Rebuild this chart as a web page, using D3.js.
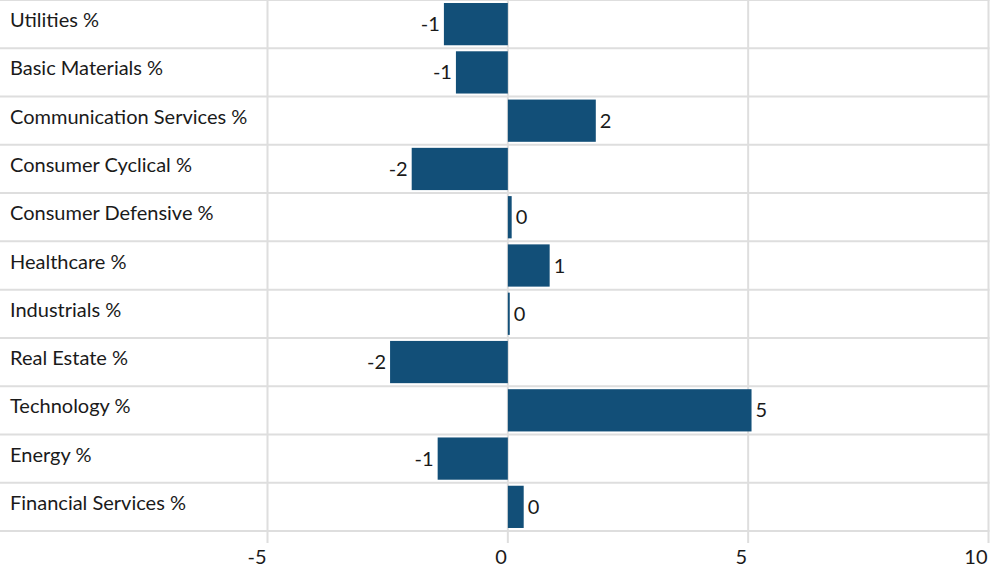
<!DOCTYPE html>
<html>
<head>
<meta charset="utf-8">
<script src="https://cdn.jsdelivr.net/npm/d3@7"></script>
<style>
  html, body { margin: 0; padding: 0; background: #fff; }
  svg text { font-family: Lato, "Open Sans", sans-serif; fill: #1a1a1a; }
</style>
</head>
<body>
<svg id="chart" width="1005" height="567"></svg>
<script>
// Sector weight differences (percentage points)
const sectors = [
  "Utilities %", "Basic Materials %", "Communication Services %",
  "Consumer Cyclical %", "Consumer Defensive %", "Healthcare %",
  "Industrials %", "Real Estate %", "Technology %", "Energy %",
  "Financial Services %"
];
const values = [-1.33, -1.08, 1.83, -2.0, 0.08, 0.87, 0.04, -2.45, 5.07, -1.46, 0.33];
const xTicks = [-5, 0, 5, 10];

const data = sectors.map((s, i) => ({ sector: s, value: values[i] }));

const svg = d3.select("#chart");
const plot = { left: 267.5, right: 988.5, top: 0, bottom: 531 };
const fontSize = 20;

const x = d3.scaleLinear().domain([-5, 10]).range([plot.left, plot.right]);
const y = d3.scaleBand().domain(sectors).range([plot.top, plot.bottom]).paddingInner(0.125).paddingOuter(0.0625);

const gridColor = "#dedede";

// horizontal separators between rows
const rowEdges = d3.range(sectors.length + 1).map(i => plot.top + i * (plot.bottom - plot.top) / sectors.length);
svg.append("g").selectAll("line").data(rowEdges).join("line")
  .attr("x1", 0).attr("x2", plot.right + 1)
  .attr("y1", d => d).attr("y2", d => d)
  .attr("stroke", gridColor).attr("stroke-width", 2);

// vertical grid lines extending into tick marks
svg.append("g").selectAll("line").data(xTicks).join("line")
  .attr("x1", d => x(d)).attr("x2", d => x(d))
  .attr("y1", plot.top).attr("y2", plot.bottom + 12)
  .attr("stroke", gridColor).attr("stroke-width", 2);

// bars
svg.append("g").selectAll("rect").data(data).join("rect")
  .attr("x", d => Math.min(x(0), x(d.value)))
  .attr("width", d => Math.abs(x(d.value) - x(0)))
  .attr("y", d => y(d.sector))
  .attr("height", y.bandwidth())
  .attr("fill", "#124f78");

// value labels (plain hyphen for negatives)
const fmt = d3.formatLocale({ decimal: ".", thousands: ",", grouping: [3], currency: ["", ""], minus: "-" }).format(".0f");
svg.append("g").selectAll("text").data(data).join("text")
  .attr("x", d => d.value < 0 ? x(d.value) - 4 : x(d.value) + 4)
  .attr("y", d => y(d.sector) + y.bandwidth() / 2)
  .attr("dy", "0.35em")
  .attr("text-anchor", d => d.value < 0 ? "end" : "start")
  .attr("font-size", fontSize)
  .text(d => fmt(d.value));

// category labels
svg.append("g").selectAll("text").data(data).join("text")
  .attr("x", 10)
  .attr("y", d => y(d.sector) + y.bandwidth() / 2 - 4)
  .attr("dy", "0.35em")
  .attr("font-size", fontSize)
  .text(d => d.sector);

// x tick labels
svg.append("g").selectAll("text").data(xTicks).join("text")
  .attr("x", d => x(d) - 1)
  .attr("y", 557)
  .attr("dy", "0.35em")
  .attr("text-anchor", "end")
  .attr("font-size", fontSize)
  .text(d => fmt(d));
</script>
</body>
</html>
